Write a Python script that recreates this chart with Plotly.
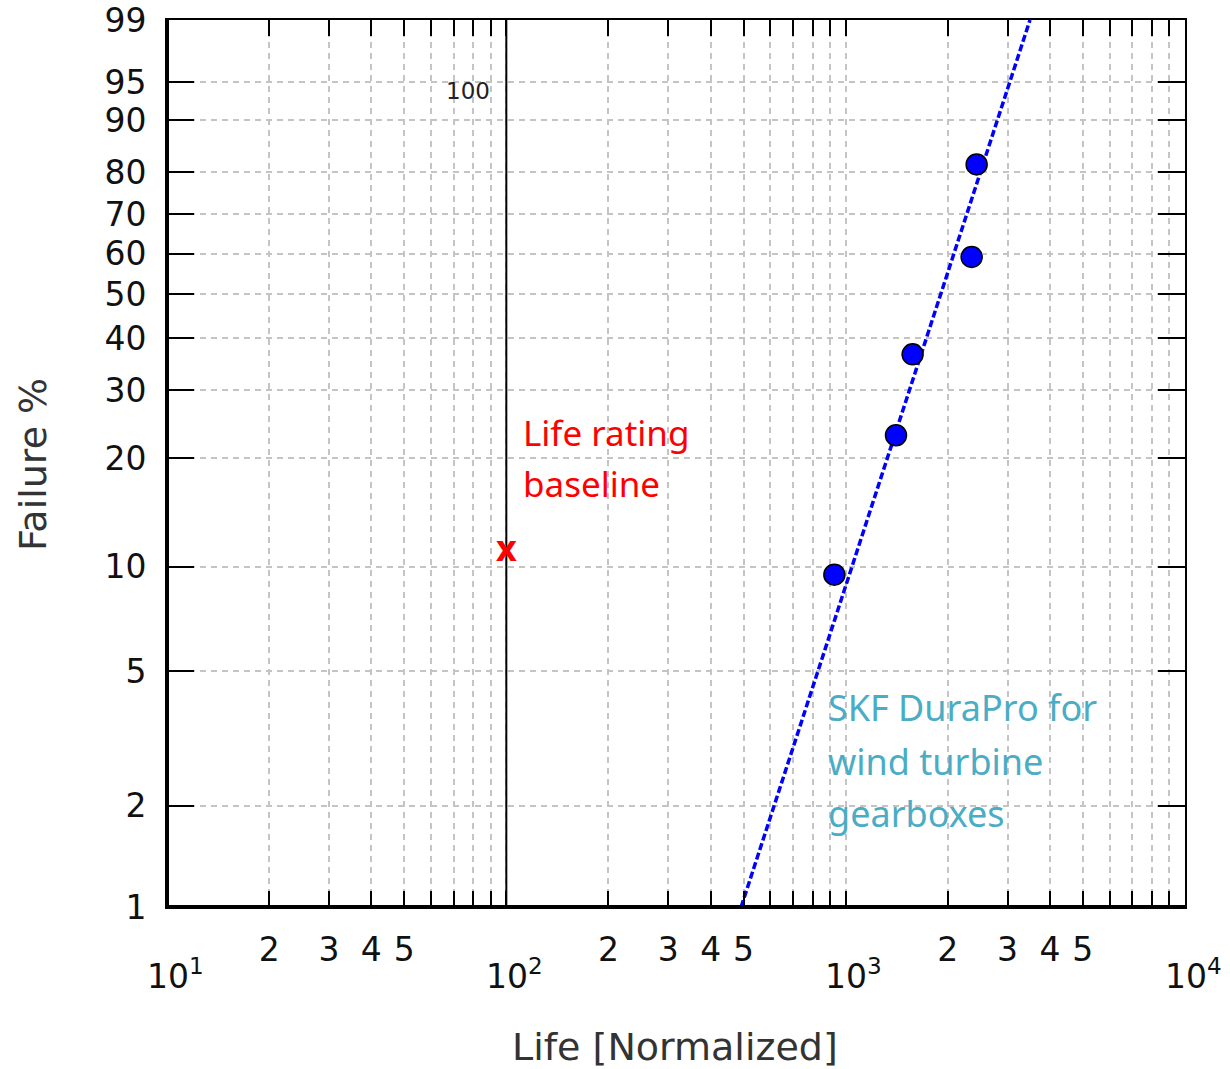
import math
import plotly.graph_objects as go

# ---- data ----
life = [926, 1407, 1575, 2351, 2432]
failure_pct = [9.5, 23.0, 36.7, 59.2, 81.7]

fit_life = [492, 3493]
fit_failure_pct = [1, 99]

baseline_life = [100, 100]
baseline_failure_pct = [1, 99]

rating_life = [100]
rating_failure_pct = [11.0]

y_tick_pct = [1, 2, 5, 10, 20, 30, 40, 50, 60, 70, 80, 90, 95, 99]
x_decades = [10, 100, 1000, 10000]
x_labeled_digits = [2, 3, 4, 5]
x_unlabeled_digits = [6, 7, 8, 9]
decade_labels = ["10<sup>1</sup>", "10<sup>2</sup>", "10<sup>3</sup>", "10<sup>4</sup>"]


def weib(p):
    """Weibull probability scale: ln(-ln(1-F))."""
    return math.log(-math.log(1 - p / 100.0))


W = 1230
H = 1069
L, R, T, B = 167, 45, 20, 162
PW = W - L - R
PH = H - T - B

tick_font = dict(family="DejaVu Sans", size=33, color="#111")
title_font = dict(family="DejaVu Sans", size=38, color="#333")

fig = go.Figure()

# baseline vertical line
fig.add_trace(go.Scatter(
    x=baseline_life, y=[weib(v) for v in baseline_failure_pct],
    mode="lines", line=dict(color="black", width=2), hoverinfo="skip"))

# fitted dashed line
fig.add_trace(go.Scatter(
    x=fit_life, y=[weib(v) for v in fit_failure_pct],
    mode="lines", line=dict(color="#0000ff", width=3.5, dash="7px,3px"),
    hoverinfo="skip"))

# data points
fig.add_trace(go.Scatter(
    x=life, y=[weib(v) for v in failure_pct], mode="markers",
    marker=dict(size=21, color="#0000ff", line=dict(color="black", width=1.5))))

# rating marker (red x)
fig.add_trace(go.Scatter(
    x=rating_life, y=[weib(v) for v in rating_failure_pct], mode="text",
    text=["<b>x</b>"], textposition="middle center",
    textfont=dict(family="Noto Sans", size=36, color="#ff0000")))

# x ticks: labeled 2..5 as major, decades and 6..9 as minor
x_tickvals, x_ticktext, x_minorvals = [], [], []
for d in x_decades:
    x_minorvals.append(d)
    if d < x_decades[-1]:
        for m in x_labeled_digits:
            x_tickvals.append(m * d)
            x_ticktext.append(str(m))
        for m in x_unlabeled_digits:
            x_minorvals.append(m * d)

grid_style = dict(gridcolor="#c4c4c4", gridwidth=1.5, griddash="6px,5px")

fig.update_xaxes(
    type="log", range=[1, 4], tickmode="array",
    tickvals=x_tickvals, ticktext=x_ticktext,
    ticks="inside", ticklen=16, tickwidth=2, tickcolor="black",
    minor=dict(tickmode="array", tickvals=x_minorvals, ticks="inside", ticklen=16,
               tickwidth=2, tickcolor="black", showgrid=True, **grid_style),
    showline=True, linecolor="black", linewidth=2, mirror="allticks",
    tickfont=tick_font, ticklabelstandoff=12, zeroline=False, automargin=False,
    showgrid=True, **grid_style)

fig.update_yaxes(
    range=[weib(y_tick_pct[0]), weib(y_tick_pct[-1])], tickmode="array",
    tickvals=[weib(v) for v in y_tick_pct], ticktext=[str(v) for v in y_tick_pct],
    ticks="inside", ticklen=27, tickwidth=2, tickcolor="black",
    showline=True, linecolor="black", linewidth=2, mirror="allticks",
    tickfont=tick_font, ticklabelstandoff=12, zeroline=False, automargin=False,
    showgrid=True, **grid_style)

# heavier left and bottom frame lines
fig.add_shape(type="line", xref="paper", yref="paper", x0=0, x1=0, y0=0, y1=1,
              line=dict(color="black", width=4))
fig.add_shape(type="line", xref="paper", yref="paper", x0=0, x1=1, y0=0, y1=0,
              line=dict(color="black", width=4))

ann = []
# decade labels below minor labels
for d, lab in zip(x_decades, decade_labels):
    ann.append(dict(x=math.log10(d), xref="x", y=(907 - 975) / PH, yref="paper",
                    text=lab, showarrow=False, xanchor="center", yanchor="middle",
                    xshift=8, font=tick_font))

# axis titles
ann.append(dict(x=(675 - L) / PW, xref="paper", y=(907 - 1047) / PH, yref="paper",
                text="Life [Normalized]", showarrow=False, xanchor="center",
                yanchor="middle", font=title_font))
ann.append(dict(x=(33 - L) / PW, xref="paper", y=(907 - 465) / PH, yref="paper",
                text="Failure %", showarrow=False, textangle=-90, xanchor="center",
                yanchor="middle", font=title_font))

# "100" label
ann.append(dict(x=(468 - L) / PW, xref="paper", y=(907 - 91) / PH, yref="paper",
                text="100", showarrow=False, xanchor="center", yanchor="middle",
                font=dict(family="DejaVu Sans", size=23, color="#222")))

red = dict(family="Noto Sans", size=35, color="#ff0000")
teal = dict(family="Noto Sans", size=36, color="#4bacc6")
for txt, yy in [("Life rating", 432), ("baseline", 483)]:
    ann.append(dict(x=(521 - L) / PW, xref="paper", y=(907 - yy) / PH, yref="paper",
                    text=txt, showarrow=False, xanchor="left", yanchor="middle", font=red))
for txt, yy in [("SKF DuraPro for", 707), ("wind turbine", 761), ("gearboxes", 813)]:
    ann.append(dict(x=(826 - L) / PW, xref="paper", y=(907 - yy) / PH, yref="paper",
                    text=txt, showarrow=False, xanchor="left", yanchor="middle", font=teal))

fig.update_layout(
    width=W, height=H, margin=dict(l=L, r=R, t=T, b=B, autoexpand=False),
    paper_bgcolor="white", plot_bgcolor="white", showlegend=False,
    annotations=ann)

fig.write_html(
    "out.html",
    config={"displayModeBar": False},
    post_script="document.body.style.margin='0';document.body.style.overflow='hidden';")
